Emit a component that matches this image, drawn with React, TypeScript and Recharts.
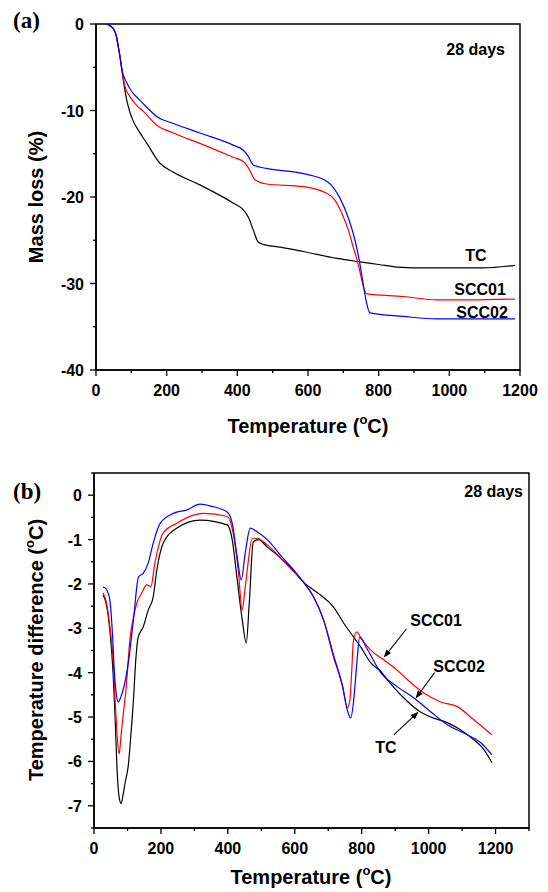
import React from "react";
import { LineChart, Line, XAxis, YAxis, ReferenceArea, ReferenceLine } from "recharts";

// (a) TG mass loss, 28 days
const TG_TC_T = [28, 40, 50, 57, 63, 68, 73, 78, 87, 96, 105, 120, 144, 181, 218, 294, 388, 417, 432, 445, 459, 475, 521, 586, 682, 747, 800, 852, 937, 1000, 1096, 1186];
const TG_TC = [0, -0.2, -0.6, -1.3, -2.6, -3.8, -5.2, -6.7, -8.8, -10.2, -11.2, -12.3, -13.8, -16.1, -17.1, -18.6, -20.7, -21.5, -22.4, -23.8, -25.2, -25.5, -25.8, -26.3, -27.1, -27.5, -27.8, -28.1, -28.2, -28.2, -28.2, -27.9];
const TG_SCC01_T = [28, 40, 50, 57, 63, 68, 73, 82, 96, 115, 134, 172, 219, 294, 388, 417, 431, 450, 483, 587, 654, 675, 696, 714, 728, 739, 750, 759, 766, 869, 965, 1059, 1186];
const TG_SCC01 = [0, -0.2, -0.6, -1.3, -2.6, -3.8, -5.2, -7.2, -8.4, -9.4, -10.1, -11.7, -12.6, -13.8, -15.4, -15.9, -16.6, -18.0, -18.5, -18.8, -19.6, -20.3, -21.9, -23.8, -25.8, -27.3, -29.2, -30.7, -31.2, -31.5, -31.9, -31.9, -31.8];
const TG_SCC02_T = [28, 40, 50, 57, 63, 68, 73, 87, 101, 119, 143, 172, 219, 294, 388, 417, 431, 445, 483, 587, 654, 690, 714, 733, 745, 756, 766, 775, 869, 965, 1186];
const TG_SCC02 = [0, -0.2, -0.6, -1.3, -2.6, -3.8, -5.2, -6.8, -7.8, -8.6, -9.6, -10.7, -11.5, -12.6, -14.0, -14.6, -15.3, -16.3, -16.7, -17.3, -18.2, -20.1, -22.4, -25.0, -27.3, -30.0, -32.3, -33.4, -33.8, -34.1, -34.1];

// (b) DTA temperature difference, 28 days
const DTA_TC_T = [27, 38, 48, 57, 63, 69, 75, 81, 87, 93, 102, 113, 118, 125, 132, 147, 162, 177, 188, 207, 248, 317, 398, 413, 428, 443, 455, 464, 476, 491, 518, 557, 587, 626, 677, 716, 746, 776, 797, 827, 857, 877, 926, 967, 1006, 1057, 1096, 1135, 1166, 1189];
const DTA_TC = [-2.25, -2.5, -3.1, -4.0, -5.0, -6.2, -6.8, -6.95, -6.75, -6.48, -6.12, -5.13, -4.6, -3.7, -3.2, -2.97, -2.59, -2.29, -1.68, -1.08, -0.74, -0.56, -0.67, -1.0, -1.91, -2.81, -3.33, -2.43, -1.05, -1.0, -1.17, -1.41, -1.62, -1.96, -2.25, -2.52, -2.88, -3.2, -3.42, -3.78, -3.97, -4.16, -4.57, -4.84, -5.0, -5.13, -5.29, -5.51, -5.74, -6.03];
const DTA_SCC01_T = [27, 38, 48, 57, 63, 69, 75, 81, 88, 96, 108, 118, 128, 143, 158, 170, 182, 207, 248, 297, 327, 398, 416, 431, 443, 450, 458, 473, 488, 518, 557, 587, 626, 656, 686, 716, 743, 757, 765, 770, 775, 785, 800, 827, 866, 907, 937, 986, 1036, 1087, 1135, 1189];
const DTA_SCC01 = [-2.2, -2.45, -3.0, -3.7, -4.6, -5.4, -5.83, -5.4, -4.9, -4.35, -3.2, -2.75, -2.43, -2.2, -2.02, -2.06, -1.53, -0.85, -0.63, -0.45, -0.41, -0.48, -0.86, -1.68, -2.59, -2.2, -1.68, -0.97, -0.97, -1.12, -1.41, -1.65, -1.96, -2.29, -2.81, -3.6, -4.3, -4.79, -4.6, -4.0, -3.3, -3.08, -3.25, -3.49, -3.71, -3.95, -4.16, -4.46, -4.66, -4.77, -5.06, -5.4];
const DTA_SCC02_T = [27, 35, 42, 48, 55, 61, 67, 73, 80, 90, 103, 118, 133, 147, 162, 177, 198, 237, 278, 317, 357, 398, 413, 428, 440, 452, 467, 488, 518, 557, 587, 626, 656, 686, 716, 743, 757, 767, 775, 781, 787, 794, 818, 857, 907, 956, 1006, 1057, 1105, 1156, 1189];
const DTA_SCC02 = [-2.07, -2.1, -2.2, -2.4, -3.1, -4.0, -4.5, -4.66, -4.55, -4.3, -3.75, -2.8, -1.84, -1.76, -1.53, -1.08, -0.63, -0.41, -0.33, -0.2, -0.26, -0.38, -0.63, -1.4, -1.91, -1.3, -0.74, -0.83, -1.0, -1.35, -1.6, -1.96, -2.29, -2.81, -3.64, -4.32, -4.84, -5.02, -4.7, -4.2, -3.64, -3.2, -3.49, -4.0, -4.32, -4.57, -4.88, -5.18, -5.36, -5.58, -5.85];

const TG_X_TICKS = [0, 100, 200, 300, 400, 500, 600, 700, 800, 900, 1000, 1100, 1200];
const TG_Y_TICKS = [-40, -35, -30, -25, -20, -15, -10, -5, 0];
const DTA_X_TICKS = [0, 100, 200, 300, 400, 500, 600, 700, 800, 900, 1000, 1100, 1200, 1300];
const DTA_Y_TICKS = [-7.5, -7, -6.5, -6, -5.5, -5, -4.5, -4, -3.5, -3, -2.5, -2, -1.5, -1, -0.5, 0, 0.5];

// arrows in panel (b): from label to curve
const ARROWS = [
  { name: "SCC01", from: [934, -3.01], to: [866, -3.66] },
  { name: "SCC02", from: [1018, -4.0], to: [961, -4.58] },
  { name: "TC", from: [896, -5.4], to: [970, -4.88] },
];

const SANS = '"Liberation Sans", Arial, Helvetica, sans-serif';
const SERIF = '"Liberation Serif", "Times New Roman", serif';

function toRows(t: number[], v: number[]) {
  return t.map((x, i) => ({ t: x, v: v[i] }));
}

function makeXTick(majorStep: number) {
  return (props: any) => {
    const { x, y, payload } = props;
    const major = payload.value % majorStep === 0;
    return (
      <g>
        <line x1={x} y1={y} x2={x} y2={y + (major ? 6 : 3)} stroke="#000" strokeWidth={1.3} />
        {major && (
          <text x={x} y={y + 26} textAnchor="middle" fontFamily={SANS} fontWeight="bold" fontSize={16} fill="#000">
            {payload.value}
          </text>
        )}
      </g>
    );
  };
}

function makeYTick(majorStep: number) {
  return (props: any) => {
    const { x, y, payload } = props;
    const major = Math.abs(payload.value % majorStep) < 1e-9;
    return (
      <g>
        <line x1={x} y1={y} x2={x - (major ? 6 : 3)} y2={y} stroke="#000" strokeWidth={1.3} />
        {major && (
          <text x={x - 12} y={y + 6} textAnchor="end" fontFamily={SANS} fontWeight="bold" fontSize={16} fill="#000">
            {payload.value}
          </text>
        )}
      </g>
    );
  };
}

function ArrowShape(props: any) {
  const { x1, y1, x2, y2 } = props;
  const a = Math.atan2(y2 - y1, x2 - x1);
  const len = 8;
  const w = 3;
  const bx = x2 - len * Math.cos(a);
  const by = y2 - len * Math.sin(a);
  const px = -Math.sin(a) * w;
  const py = Math.cos(a) * w;
  return (
    <g>
      <line x1={x1} y1={y1} x2={bx} y2={by} stroke="#000" strokeWidth={1.1} />
      <polygon points={`${x2},${y2} ${bx + px},${by + py} ${bx - px},${by - py}`} fill="#000" />
    </g>
  );
}

const axisLine = { stroke: "#000", strokeWidth: 1.5 };

function TgChart() {
  return (
    <LineChart width={548} height={450} margin={{ top: 24, right: 28, left: 0, bottom: 50 }}>
      <XAxis
        dataKey="t"
        type="number"
        domain={[0, 1200]}
        ticks={TG_X_TICKS}
        interval={0}
        allowDataOverflow
        height={30}
        axisLine={axisLine}
        tickLine={false}
        tickSize={0}
        tickMargin={0}
        tick={makeXTick(200)}
      />
      <YAxis
        type="number"
        domain={[-40, 0]}
        ticks={TG_Y_TICKS}
        interval={0}
        allowDataOverflow
        width={96}
        axisLine={axisLine}
        tickLine={false}
        tickSize={0}
        tickMargin={0}
        tick={makeYTick(10)}
      />
      <ReferenceArea x1={0} x2={1200} y1={-40} y2={0} fill="none" stroke="#000" strokeWidth={1.5} />
      <Line data={toRows(TG_TC_T, TG_TC)} dataKey="v" type="monotone" stroke="#000000" strokeWidth={1.2} dot={false} activeDot={false} isAnimationActive={false} />
      <Line data={toRows(TG_SCC01_T, TG_SCC01)} dataKey="v" type="monotone" stroke="#ff0000" strokeWidth={1.2} dot={false} activeDot={false} isAnimationActive={false} />
      <Line data={toRows(TG_SCC02_T, TG_SCC02)} dataKey="v" type="monotone" stroke="#0000ff" strokeWidth={1.2} dot={false} activeDot={false} isAnimationActive={false} />
    </LineChart>
  );
}

function DtaChart() {
  return (
    <LineChart width={548} height={442} margin={{ top: 23, right: 19, left: 0, bottom: 34 }}>
      <XAxis
        dataKey="t"
        type="number"
        domain={[0, 1300]}
        ticks={DTA_X_TICKS}
        interval={0}
        allowDataOverflow
        height={30}
        axisLine={axisLine}
        tickLine={false}
        tickSize={0}
        tickMargin={0}
        tick={makeXTick(200)}
      />
      <YAxis
        type="number"
        domain={[-7.5, 0.5]}
        ticks={DTA_Y_TICKS}
        interval={0}
        allowDataOverflow
        width={94}
        axisLine={axisLine}
        tickLine={false}
        tickSize={0}
        tickMargin={0}
        tick={makeYTick(1)}
      />
      <ReferenceArea x1={0} x2={1300} y1={-7.5} y2={0.5} fill="none" stroke="#000" strokeWidth={1.5} />
      <Line data={toRows(DTA_TC_T, DTA_TC)} dataKey="v" type="monotone" stroke="#000000" strokeWidth={1.2} dot={false} activeDot={false} isAnimationActive={false} />
      <Line data={toRows(DTA_SCC01_T, DTA_SCC01)} dataKey="v" type="monotone" stroke="#ff0000" strokeWidth={1.2} dot={false} activeDot={false} isAnimationActive={false} />
      <Line data={toRows(DTA_SCC02_T, DTA_SCC02)} dataKey="v" type="monotone" stroke="#0000ff" strokeWidth={1.2} dot={false} activeDot={false} isAnimationActive={false} />
      {ARROWS.map((a) => (
        <ReferenceLine
          key={a.name}
          segment={[{ x: a.from[0], y: a.from[1] }, { x: a.to[0], y: a.to[1] }]}
          stroke="#000"
          shape={ArrowShape}
        />
      ))}
    </LineChart>
  );
}

function TempTitle({ x, y }: { x: number; y: number }) {
  return (
    <text x={x} y={y} textAnchor="middle" fontFamily={SANS} fontWeight="bold" fontSize={20} fill="#000">
      Temperature (
      <tspan dy={-9} fontSize={13}>o</tspan>
      <tspan dy={9}>C)</tspan>
    </text>
  );
}

export default function App() {
  const bold = { fontFamily: SANS, fontWeight: "bold" as const, fill: "#000" };
  return (
    <div style={{ position: "absolute", left: 0, top: 0, width: 548, height: 892, background: "#fff" }}>
      <div style={{ position: "absolute", left: 0, top: 0 }}>
        <TgChart />
      </div>
      <div style={{ position: "absolute", left: 0, top: 450 }}>
        <DtaChart />
      </div>
      <svg width={548} height={892} style={{ position: "absolute", left: 0, top: 0, pointerEvents: "none" }}>
        <text x={13} y={28} fontFamily={SERIF} fontWeight="bold" fontSize={23} fill="#000">(a)</text>
        <text x={13} y={499} fontFamily={SERIF} fontWeight="bold" fontSize={23} fill="#000">(b)</text>

        <text {...bold} fontSize={20} textAnchor="middle" transform="translate(43,197) rotate(-90)">Mass loss (%)</text>
        <text {...bold} fontSize={20} textAnchor="middle" transform="translate(43,650) rotate(-90)">
          Temperature difference (
          <tspan dy={-9} fontSize={13}>o</tspan>
          <tspan dy={9}>C)</tspan>
        </text>
        <TempTitle x={308} y={433} />
        <TempTitle x={311} y={884} />

        <text {...bold} fontSize={16} textAnchor="end" x={505} y={55}>28 days</text>
        <text {...bold} fontSize={16} textAnchor="end" x={523} y={497}>28 days</text>

        <text {...bold} fontSize={16} textAnchor="middle" x={476} y={261}>TC</text>
        <text {...bold} fontSize={16} textAnchor="middle" x={480} y={295}>SCC01</text>
        <text {...bold} fontSize={16} textAnchor="middle" x={482} y={318}>SCC02</text>

        <text {...bold} fontSize={16} textAnchor="middle" x={436} y={626}>SCC01</text>
        <text {...bold} fontSize={16} textAnchor="middle" x={459} y={672}>SCC02</text>
        <text {...bold} fontSize={16} textAnchor="middle" x={386} y={753}>TC</text>
      </svg>
    </div>
  );
}
